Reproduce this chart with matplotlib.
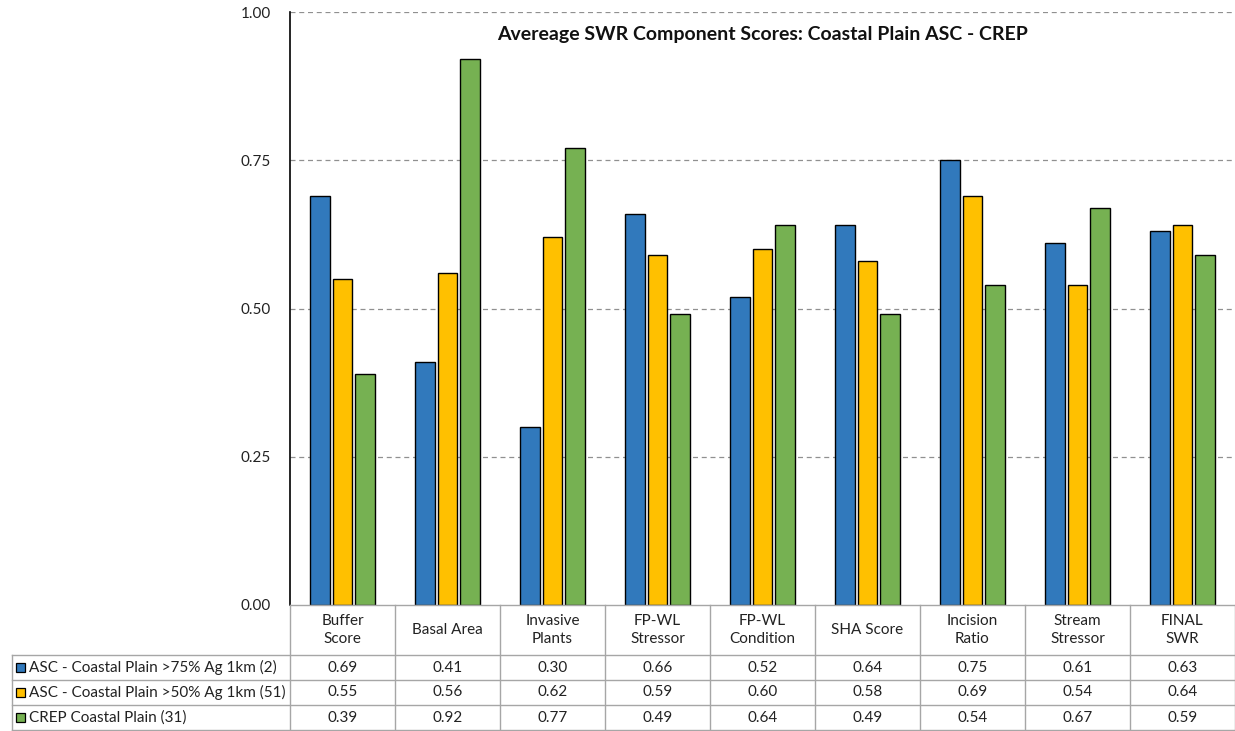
import matplotlib.pyplot as plt
from matplotlib.patches import Rectangle
from matplotlib.transforms import blended_transform_factory

plt.rcParams['font.family'] = ['Lato', 'DejaVu Sans']

categories = ["Buffer\nScore", "Basal Area", "Invasive\nPlants", "FP-WL\nStressor",
              "FP-WL\nCondition", "SHA Score", "Incision\nRatio", "Stream\nStressor",
              "FINAL\nSWR"]
series_names = ["ASC - Coastal Plain >75% Ag 1km (2)",
                "ASC - Coastal Plain >50% Ag 1km (51)",
                "CREP Coastal Plain (31)"]
asc75 = [0.69, 0.41, 0.30, 0.66, 0.52, 0.64, 0.75, 0.61, 0.63]
asc50 = [0.55, 0.56, 0.62, 0.59, 0.60, 0.58, 0.69, 0.54, 0.64]
crep = [0.39, 0.92, 0.77, 0.49, 0.64, 0.49, 0.54, 0.67, 0.59]
colors = ['#3179BC', '#FFC000', '#76B152']
yticks = [0.0, 0.25, 0.5, 0.75, 1.0]

W, H = 1235, 731
fig = plt.figure(figsize=(W / 100, H / 100), dpi=100)
ax = fig.add_axes([290 / W, (H - 605) / H, 945 / W, 593 / H])

series = [asc75, asc50, crep]
offsets = [-0.215, 0.0, 0.215]
for vals, off, col in zip(series, offsets, colors):
    ax.bar([i + off for i in range(len(categories))], vals, width=0.19,
           color=col, edgecolor='black', linewidth=1, zorder=3)

ax.set_xlim(-0.5, len(categories) - 0.5)
ax.set_ylim(0, 1)
ax.set_yticks(yticks)
ax.set_yticklabels([f"{t:.2f}" for t in yticks], fontsize=11, color='#222222')
ax.tick_params(axis='y', length=0, pad=14)
ax.set_xticks([])
for t in yticks[1:]:
    ax.axhline(t, color='#909090', linestyle=(0, (4, 3)), linewidth=0.9, zorder=1)
for s in ['top', 'right', 'bottom']:
    ax.spines[s].set_visible(False)
ax.spines['left'].set_linewidth(1.2)

ax.text(0.5, 0.962, "Avereage SWR Component Scores: Coastal Plain ASC - CREP",
        transform=ax.transAxes, ha='center', va='center', fontsize=14,
        fontweight='bold', color='#111111')

# data table below the axes
tr = blended_transform_factory(ax.transData, fig.transFigure)
ff = fig.transFigure
gray = '#a6a6a6'
n = len(categories)


def fy(py):
    return (H - py) / H


row_tops = [605, 655, 680, 705, 730]
# horizontal lines
fig.add_artist(plt.Line2D([290 / W, 1], [fy(605)] * 2, transform=ff, color=gray, lw=1))
for py in row_tops[1:]:
    fig.add_artist(plt.Line2D([12 / W, 1], [fy(py)] * 2, transform=ff, color=gray, lw=1))
# vertical lines
for i in range(n + 1):
    fig.add_artist(plt.Line2D([i - 0.5] * 2, [fy(605), fy(730)], transform=tr,
                              color=gray, lw=1))
fig.add_artist(plt.Line2D([12 / W] * 2, [fy(655), fy(730)], transform=ff, color=gray, lw=1))

# header texts
for i, c in enumerate(categories):
    fig.text(i, fy(630), c, transform=tr, ha='center', va='center', fontsize=11,
             color='#222222', linespacing=1.3)

# rows
for r, (name, vals, col) in enumerate(zip(series_names, series, colors)):
    yc = fy((row_tops[r + 1] + row_tops[r + 2]) / 2)
    fig.add_artist(Rectangle((16 / W, yc - 4.5 / H), 9 / W, 9 / H, transform=ff,
                             facecolor=col, edgecolor='black', lw=0.9))
    fig.text(29 / W, yc, name, transform=ff, ha='left', va='center', fontsize=11,
             color='#222222')
    for i, v in enumerate(vals):
        fig.text(i, yc, f"{v:.2f}", transform=tr, ha='center', va='center',
                 fontsize=11, color='#222222')

fig.savefig('out.png', dpi=100, facecolor='white')
